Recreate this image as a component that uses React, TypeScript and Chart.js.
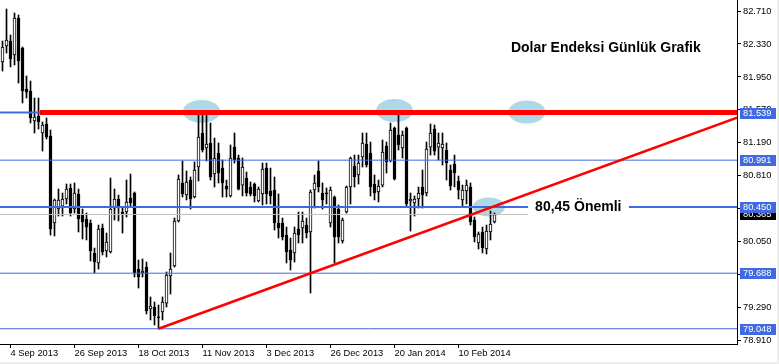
import { useEffect, useRef } from 'react';
import { Chart, registerables } from 'chart.js';

Chart.register(...registerables);

// ---- data (daily candles, index 0 = 2 Sep 2013) ----
const OPEN = [82.122,82.307,82.364,82.203,82.629,82.284,81.811,81.788,81.442,81.500,81.304,81.408,81.269,80.267,80.428,80.462,80.543,80.670,80.428,80.601,80.370,80.313,80.267,79.921,79.806,80.209,79.944,79.932,80.439,80.543,80.393,80.393,80.555,80.612,79.736,79.690,79.759,79.275,79.298,79.183,79.241,79.344,79.656,79.771,80.290,80.728,80.589,80.762,80.566,80.912,81.304,81.131,81.189,80.831,81.073,80.900,80.693,80.578,81.142,81.016,80.704,80.785,80.682,80.716,80.520,80.601,80.900,80.635,80.647,80.267,80.267,80.128,79.955,79.921,80.197,80.209,80.243,80.163,80.647,80.866,80.612,80.612,80.267,80.566,80.428,80.059,80.393,80.682,80.923,80.820,81.027,81.177,81.073,80.716,80.624,80.704,81.154,80.981,81.361,81.281,81.131,81.361,80.520,80.497,80.543,80.682,80.612,81.142,81.350,81.142,81.131,81.108,80.877,80.947,80.751,80.532,80.635,80.682,80.301,80.036,80.163,79.967,80.163,80.278];
const HIGH = [82.364,82.733,82.433,82.687,82.664,82.295,81.961,81.903,81.707,81.707,81.431,81.477,81.338,80.543,80.658,80.612,80.716,80.716,80.728,80.658,80.428,80.382,80.301,79.978,80.243,80.255,80.151,80.785,80.658,80.589,80.451,80.762,80.831,80.624,79.840,79.852,79.817,79.414,79.356,79.321,79.414,79.702,79.921,80.324,80.820,80.981,80.866,80.797,80.970,81.511,81.511,81.511,81.419,81.246,81.189,80.993,80.762,81.166,81.304,81.050,81.016,80.854,80.739,80.728,80.682,80.958,80.958,80.900,80.797,80.601,80.324,80.220,80.094,80.220,80.393,80.393,80.324,80.647,80.820,80.981,80.728,80.670,80.682,80.578,80.474,80.324,80.693,81.027,81.050,81.050,81.304,81.304,81.200,80.820,80.762,81.223,81.200,81.419,81.373,81.511,81.327,81.373,80.612,80.578,80.682,80.877,81.200,81.408,81.396,81.304,81.304,81.189,80.935,81.050,80.808,80.704,80.762,80.728,80.336,80.163,80.220,80.243,80.405,80.382];
const LOW = [82.018,82.226,82.065,82.088,81.880,81.650,81.707,81.419,81.304,81.350,81.096,81.235,80.128,80.117,80.347,80.347,80.486,80.347,80.382,80.163,80.082,80.071,79.829,79.690,79.736,79.898,79.875,79.921,80.301,80.290,80.151,80.336,80.451,79.644,79.517,79.644,79.218,79.149,79.091,79.048,79.149,79.298,79.448,79.759,80.278,80.566,80.532,80.428,80.555,80.751,81.085,80.981,80.762,80.682,80.728,80.566,80.566,80.566,80.958,80.647,80.578,80.578,80.578,80.509,80.509,80.474,80.486,80.486,80.186,80.094,80.071,79.806,79.725,79.817,80.036,80.036,80.094,79.460,80.439,80.624,80.428,80.486,80.220,79.806,80.036,80.036,80.382,80.486,80.682,80.716,80.912,80.912,80.578,80.532,80.509,80.682,80.843,80.970,80.762,81.108,81.016,80.451,80.174,80.347,80.439,80.439,80.578,81.050,81.050,80.993,80.935,80.762,80.647,80.682,80.543,80.462,80.486,80.243,80.048,79.967,79.921,79.909,80.071,80.267];
const CLOSE = [82.295,82.376,82.157,82.629,82.134,81.788,81.776,81.477,81.488,81.431,81.396,81.258,80.197,80.532,80.532,80.543,80.658,80.382,80.612,80.313,80.278,80.220,79.944,79.817,80.197,79.932,80.048,80.428,80.543,80.451,80.370,80.509,80.497,79.690,79.644,79.713,79.252,79.310,79.195,79.178,79.356,79.667,79.736,80.290,80.774,80.601,80.739,80.543,80.877,81.258,81.108,81.177,80.797,81.016,80.843,80.728,80.658,81.016,80.993,80.658,80.912,80.612,80.601,80.578,80.658,80.889,80.601,80.578,80.267,80.209,80.105,79.932,79.840,80.151,80.128,80.290,80.151,80.624,80.728,80.682,80.532,80.606,80.647,80.105,80.105,80.301,80.682,81.016,80.797,80.958,81.189,80.935,80.682,80.612,80.693,81.085,80.970,81.338,80.774,81.166,81.281,80.486,80.543,80.543,80.612,80.589,81.119,81.304,81.096,81.189,81.177,80.958,80.693,80.843,80.647,80.647,80.704,80.278,80.105,80.140,79.981,80.174,80.255,80.365];

const X_TICK_INDEX = [2, 18, 34, 50, 66, 82, 98, 114];
const X_TICK_LABELS = ['4 Sep 2013', '26 Sep 2013', '18 Oct 2013', '11 Nov 2013', '3 Dec 2013', '26 Dec 2013', '20 Jan 2014', '10 Feb 2014'];
const Y_TICKS = [82.71, 82.33, 81.95, 81.57, 81.19, 80.81, 80.43, 80.05, 79.67, 79.29, 78.91];

const BLUE_LEVELS = [81.539, 80.991, 80.45, 79.688, 79.048];
const BID_LEVEL = 80.365;
const RESIST_LEVEL = 81.539;
const RESIST_START_X = 9.375;
const TREND_X = [39, 183.625];
const TREND_Y = [79.048, 81.482];

const HIGHLIGHT_X = [49.75, 98, 131.1, 121.6];
const HIGHLIGHT_Y = [81.552, 81.563, 81.546, 80.451];

const TITLE = 'Dolar Endeksi Günlük Grafik';
const TITLE_X = 127.1;
const TITLE_Y = 82.284;
const NOTE = '80,45 Önemli';
const NOTE_X = [131.4, 156.6];
const NOTE_Y = 80.45;

const X_MIN = -0.625;
const X_MAX = 183.625;
const Y_MIN = 78.872;
const Y_MAX = 82.837;

const BLUE = '#4169E1';
const FONT = 'Liberation Sans';

const overlay = {
  id: 'overlay',
  beforeDatasetsDraw(chart: any) {
    const { ctx, scales } = chart;
    const x = scales.x, y = scales.y;
    ctx.save();
    ctx.fillStyle = '#ADD8E6';
    HIGHLIGHT_X.forEach((hx, i) => {
      const cx = x.getPixelForValue(hx);
      const cy = y.getPixelForValue(HIGHLIGHT_Y[i]);
      const rx = i === 3 ? 16 : 18.5;
      const ry = i === 3 ? 9.5 : 11.5;
      ctx.beginPath();
      ctx.ellipse(cx, cy, rx, ry, 0, 0, Math.PI * 2);
      ctx.fill();
    });
    ctx.restore();
  },
  afterDatasetsDraw(chart: any) {
    const { ctx, scales } = chart;
    const x = scales.x, y = scales.y;
    ctx.save();
    // note box
    const nx0 = x.getPixelForValue(NOTE_X[0]);
    const nx1 = x.getPixelForValue(NOTE_X[1]);
    const ny = y.getPixelForValue(NOTE_Y);
    ctx.fillStyle = '#ffffff';
    ctx.fillRect(nx0, ny - 10, nx1 - nx0, 20);
    ctx.fillStyle = '#000000';
    ctx.font = `bold 14px "${FONT}"`;
    ctx.textBaseline = 'middle';
    ctx.textAlign = 'left';
    ctx.fillText(NOTE, nx0 + 7, ny);
    // title
    ctx.fillText(TITLE, x.getPixelForValue(TITLE_X), y.getPixelForValue(TITLE_Y));
    ctx.restore();
  },
  afterDraw(chart: any) {
    const { ctx, scales, chartArea, width, height } = chart;
    const y = scales.y;
    ctx.save();
    ctx.font = `9.3px "${FONT}"`;
    ctx.textBaseline = 'middle';
    ctx.textAlign = 'left';
    const bx = chartArea.right + 3;
    const drawBox = (v: number, bg: string) => {
      const py = Math.round(y.getPixelForValue(v));
      ctx.fillStyle = bg;
      ctx.fillRect(bx, py - 5, 36, 11);
      ctx.fillStyle = '#ffffff';
      ctx.fillText(v.toFixed(3), bx + 3, py + 0.5);
    };
    drawBox(BID_LEVEL, '#000000');
    BLUE_LEVELS.forEach((v) => drawBox(v, BLUE));
    // window frame strips
    ctx.fillStyle = '#ECECEC';
    ctx.fillRect(width - 2, 0, 2, height);
    ctx.fillRect(0, height - 2, width, 2);
    ctx.restore();
  },
};

function candleBodies() {
  return OPEN.map((o, i) => {
    const c = CLOSE[i];
    let lo = Math.min(o, c);
    let hi = Math.max(o, c);
    if (hi - lo < 0.012) {
      const m = (hi + lo) / 2;
      lo = m - 0.006;
      hi = m + 0.006;
    }
    return { x: i, y: [lo, hi] };
  });
}

export default function App() {
  const ref = useRef<HTMLCanvasElement>(null);
  useEffect(() => {
    const datasets: any[] = [];
    // red trendline
    datasets.push({
      type: 'line',
      data: TREND_X.map((tx, i) => ({ x: tx, y: TREND_Y[i] })),
      borderColor: '#FF0000',
      borderWidth: 2.5,
      pointRadius: 0,
      fill: false,
      order: 0,
    });
    // red resistance
    datasets.push({
      type: 'line',
      data: [{ x: RESIST_START_X, y: RESIST_LEVEL }, { x: X_MAX, y: RESIST_LEVEL }],
      borderColor: '#FF0000',
      borderWidth: 5,
      pointRadius: 0,
      fill: false,
      order: 1,
    });
    BLUE_LEVELS.forEach((v) => {
      datasets.push({
        type: 'line',
        data: [{ x: X_MIN, y: v }, { x: X_MAX, y: v }],
        borderColor: BLUE,
        borderWidth: v === 81.539 || v === 80.45 ? 2 : 1,
        pointRadius: 0,
        fill: false,
        order: 3,
      });
    });
    datasets.push({
      type: 'line',
      data: [{ x: X_MIN, y: BID_LEVEL }, { x: NOTE_X[0], y: BID_LEVEL }],
      borderColor: '#C0C0C0',
      borderWidth: 1,
      pointRadius: 0,
      fill: false,
      order: 4,
    });
    datasets.push({
      type: 'bar',
      data: candleBodies(),
      backgroundColor: OPEN.map((o, i) => (CLOSE[i] >= o ? '#ffffff' : '#000000')),
      borderColor: '#000000',
      borderWidth: 1,
      borderSkipped: false,
      barThickness: 3,
      grouped: false,
      order: 5,
    });
    datasets.push({
      type: 'bar',
      data: HIGH.map((h, i) => ({ x: i, y: [LOW[i], h] })),
      backgroundColor: '#000000',
      borderWidth: 0,
      barThickness: 1,
      grouped: false,
      order: 6,
    });

    const chart = new Chart(ref.current as HTMLCanvasElement, {
      type: 'bar',
      data: { datasets },
      options: {
        animation: false,
        responsive: false,
        maintainAspectRatio: false,
        layout: { padding: 0 },
        plugins: { legend: { display: false }, tooltip: { enabled: false } },
        scales: {
          x: {
            type: 'linear',
            min: X_MIN,
            max: X_MAX,
            offset: false,
            position: 'bottom',
            grid: { display: true, offset: false, drawOnChartArea: false, drawTicks: true, tickLength: 4, color: '#000' },
            border: { display: true, color: '#000', width: 1 },
            ticks: {
              align: 'start',
              padding: 0,
              maxRotation: 0,
              autoSkip: false,
              color: '#000',
              font: { family: FONT, size: 9.3 },
              callback: (v: any) => {
                const i = X_TICK_INDEX.indexOf(Number(v));
                return i >= 0 ? X_TICK_LABELS[i] : '';
              },
            },
            afterBuildTicks: (s: any) => {
              s.ticks = X_TICK_INDEX.map((v) => ({ value: v }));
            },
            afterFit: (s: any) => {
              s.height = 20;
              s.paddingLeft = 0;
              s.paddingRight = 0;
            },
          } as any,
          y: {
            type: 'linear',
            position: 'right',
            min: Y_MIN,
            max: Y_MAX,
            beginAtZero: false,
            grid: { display: true, drawOnChartArea: false, drawTicks: true, tickLength: 4, color: '#000' },
            border: { display: true, color: '#000', width: 1 },
            ticks: {
              padding: 2,
              color: '#000',
              font: { family: FONT, size: 9.3 },
              callback: (v: any) => Number(v).toFixed(3),
            },
            afterBuildTicks: (s: any) => {
              s.ticks = Y_TICKS.map((v) => ({ value: v }));
            },
            afterFit: (s: any) => {
              s.width = 42;
              s.paddingTop = 0;
              s.paddingBottom = 0;
            },
          } as any,
        },
      },
      plugins: [overlay],
    } as any);
    return () => chart.destroy();
  }, []);

  return (
    <div style={{ position: 'fixed', left: 0, top: 0, width: 779, height: 364, background: '#ffffff' }}>
      <canvas ref={ref} width={779} height={364} style={{ display: 'block', width: 779, height: 364 }} />
    </div>
  );
}
